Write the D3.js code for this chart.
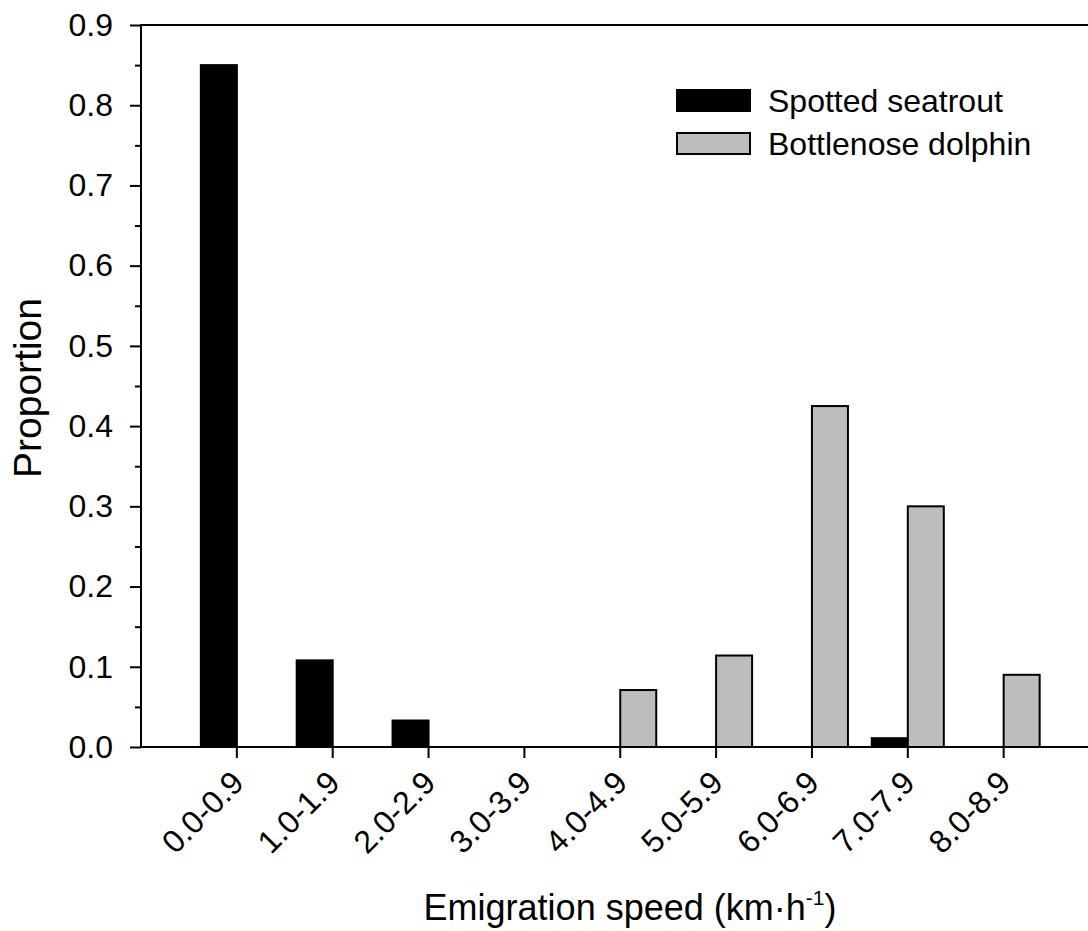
<!DOCTYPE html>
<html>
  <head>
    <meta charset="utf-8">
    <title>Emigration speed</title>
    <style media="screen">
      body {
        margin: 0;
        background: white;
      }
      svg text {
        font-family: 'Liberation Sans', Arial, sans-serif;
        fill: black;
      }
    </style>
    <script src="https://cdnjs.cloudflare.com/ajax/libs/d3/7.8.5/d3.min.js"></script>
  </head>
  <body>
    <div id="chart"></div>
  <script type="text/javascript">
  // data
  var categories = ['0.0-0.9','1.0-1.9','2.0-2.9','3.0-3.9','4.0-4.9','5.0-5.9','6.0-6.9','7.0-7.9','8.0-8.9'];
  var seatrout = [0.85, 0.108, 0.033, 0, 0, 0, 0, 0.011, 0];
  var dolphin = [0, 0, 0, 0, 0.071, 0.114, 0.425, 0.30, 0.09];
  var seriesNames = ['Spotted seatrout', 'Bottlenose dolphin'];
  var seriesColors = ['#000000', '#bdbdbd'];
  var yTicks = [0, 0.1, 0.2, 0.3, 0.4, 0.5, 0.6, 0.7, 0.8, 0.9];

  var W = 1088, H = 931;
  var padLeft = 141, padTop = 25, padBottom = 747;
  var step = 95.85;
  var padRight = padLeft + step * 10;

  var svg = d3.select('#chart').append('svg').attr('width', W).attr('height', H);

  var x = d3.scaleBand().domain(categories)
            .range([padLeft + step / 2, padLeft + step / 2 + step * categories.length])
            .paddingInner(0).paddingOuter(0);
  var sub = d3.scaleBand().domain([0, 1]).range([-36, 36]);
  var y = d3.scaleLinear().domain([0, 0.9]).range([padBottom, padTop]);

  var rows = categories.map((c, i) => ({cat: c, vals: [seatrout[i], dolphin[i]]}));

  // bars
  var groups = svg.append('g').attr('class', 'bars')
    .selectAll('g').data(rows).enter().append('g')
    .attr('transform', d => 'translate(' + (x(d.cat) + x.bandwidth() / 2) + ',0)');
  groups.selectAll('rect').data(d => d.vals.map((v, k) => ({k: k, v: v})))
    .enter().append('rect')
    .attr('x', d => sub(d.k))
    .attr('width', sub.bandwidth())
    .attr('y', d => y(d.v))
    .attr('height', d => y(0) - y(d.v))
    .style('fill', d => seriesColors[d.k])
    .style('stroke', 'black')
    .style('stroke-width', 2);

  // y axis with minor ticks
  var minor = d3.range(0.05, 0.9, 0.1);
  svg.append('g').attr('transform', 'translate(' + padLeft + ',0)')
    .call(d3.axisLeft(y).tickValues(minor).tickSize(6).tickFormat(''))
    .call(g => g.select('.domain').remove())
    .selectAll('line').style('stroke-width', 2);
  var yAxis = svg.append('g').attr('transform', 'translate(' + padLeft + ',0)')
    .call(d3.axisLeft(y).tickValues(yTicks).tickSize(11).tickPadding(17).tickFormat(d3.format('.1f')));
  yAxis.select('.domain').remove();
  yAxis.selectAll('line').style('stroke-width', 2);
  yAxis.selectAll('text').style('font-size', '32px');
  svg.append('line').attr('x1', padLeft).attr('x2', padLeft).attr('y1', padTop - 1).attr('y2', padBottom + 1)
    .style('stroke', 'black').style('stroke-width', 2);

  // x axis
  var xAxis = svg.append('g').attr('transform', 'translate(0,' + padBottom + ')')
    .call(d3.axisBottom(x).tickSize(11).tickPadding(0));
  xAxis.select('.domain').remove();
  xAxis.selectAll('line').style('stroke-width', 2);
  xAxis.selectAll('text')
    .style('font-size', '32px')
    .style('text-anchor', 'end')
    .attr('dy', 0)
    .attr('transform', 'translate(1,30) rotate(-45)');

  // frame lines
  svg.append('line').attr('x1', padLeft).attr('x2', padRight).attr('y1', padBottom).attr('y2', padBottom)
    .style('stroke', 'black').style('stroke-width', 2);
  svg.append('line').attr('x1', padLeft).attr('x2', padRight).attr('y1', padTop).attr('y2', padTop)
    .style('stroke', 'black').style('stroke-width', 2);

  // legend
  var legend = svg.append('g').attr('class', 'legend');
  seriesNames.forEach((name, i) => {
    let ly = 90 + i * 43;
    legend.append('rect').attr('x', 677).attr('y', ly).attr('width', 73).attr('height', 21)
      .style('fill', seriesColors[i]).style('stroke', 'black').style('stroke-width', 2);
    legend.append('text').attr('x', 768).attr('y', ly + 11).attr('dy', '0.35em')
      .style('font-size', '32px').text(name);
  });

  // axis titles
  var xt = svg.append('text').attr('x', 630).attr('y', 920)
    .style('text-anchor', 'middle').style('font-size', '36px');
  xt.append('tspan').text('Emigration speed (km\u00b7h');
  xt.append('tspan').attr('dy', -15).style('font-size', '21px').text('-1');
  xt.append('tspan').attr('dy', 15).text(')');

  svg.append('text').attr('transform', 'translate(41,388) rotate(-90)')
    .style('text-anchor', 'middle').style('font-size', '39px').text('Proportion');
  </script>
  </body>
</html>
